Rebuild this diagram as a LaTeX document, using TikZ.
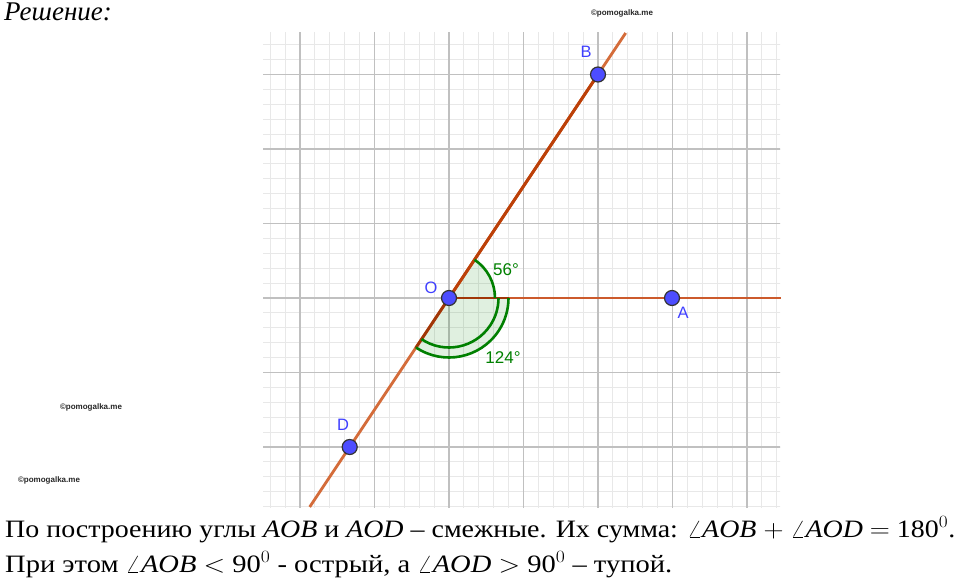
\documentclass[tikz,border=0pt]{standalone}
\usepackage{fontspec}
\setmainfont{Liberation Serif}
\newfontfamily\lblfont{Liberation Sans}
\usetikzlibrary{calc}
\definecolor{gridminor}{RGB}{232,232,232}
\definecolor{gridmajor}{RGB}{192,192,192}
\definecolor{linelight}{RGB}{212,108,58}
\definecolor{linedark}{RGB}{188,64,8}
\definecolor{rayor}{RGB}{204,90,44}
\definecolor{anggreen}{RGB}{0,128,0}
\definecolor{ptfill}{RGB}{77,77,255}
\definecolor{ptlbl}{RGB}{64,64,255}
\tikzset{
  minorline/.style={gridminor, line width=1pt},
  majorline/.style={gridmajor, line width=1.6pt},
  pt/.style={circle, fill=ptfill, draw=black!80, line width=1.2pt, minimum size=15pt, inner sep=0pt},
  ptlabel/.style={font=\lblfont\fontsize{16.5}{18}\selectfont, text=ptlbl, inner sep=0pt},
  anglabel/.style={font=\lblfont\fontsize{17}{19}\selectfont, text=anggreen, inner sep=0pt},
  wm/.style={font=\lblfont\bfseries\fontsize{8}{9}\selectfont, text=black!85, inner sep=0pt},
  arcline/.style={anggreen, line width=2.6pt},
  txt/.style={anchor=base west, inner sep=0pt}
}
\begin{document}
\begin{tikzpicture}[x=1pt,y=1pt]
\useasboundingbox (0,0) rectangle (960,-586);
% grid
\begin{scope}
\clip (263,-33) rectangle (780,-507);
\foreach \i in {-13,...,23} {\draw[minorline] ({449+\i*14.9},-30) -- ({449+\i*14.9},-510);}
\foreach \j in {-18,...,15} {\draw[minorline] (260,{-298-\j*14.9}) -- (783,{-298-\j*14.9});}
\foreach \i in {-3,...,5} {\draw[majorline] ({449+\i*74.5},-30) -- ({449+\i*74.5},-510);}
\foreach \j in {-4,...,3} {\draw[majorline] (260,{-298-\j*74.5}) -- (783,{-298-\j*74.5});}
\end{scope}
% key coordinates
\coordinate (O) at (449,-298);
\coordinate (A) at (672,-298);
\coordinate (B) at (598,-74.5);
\coordinate (D) at (349.7,-447);
\coordinate (Aend) at (781,-298);
\coordinate (Ltop) at ($(O)!1.1857!(B)$);
\coordinate (Lbot) at ($(O)!-0.935!(B)$);
\coordinate (Dr) at ($(O)!60pt!(D)$);
\coordinate (Ar) at ($(O)!60pt!(A)$);
% sectors
\fill[anggreen, opacity=0.12] (O) -- ++(0:46) arc[start angle=0, end angle=56.3, radius=46] -- cycle;
\fill[anggreen, opacity=0.12] (O) -- ++(236.3:59.5) arc[start angle=236.3, end angle=360, radius=59.5] -- cycle;
% lines
\draw[linelight, line width=2.8pt] (Lbot) -- (Ltop);
\draw[rayor, line width=2.8pt] (O) -- (Aend);
\draw[linedark, line width=3pt] (O) -- (B);
\draw[linedark!85!black, line width=2.8pt] (O) -- (Dr);
\draw[linedark!85!black, line width=2.8pt] (O) -- (Ar);
% arcs
\draw[arcline] (O) ++(0:46) arc[start angle=0, end angle=56.3, radius=46];
\draw[arcline] (O) ++(236.3:49.5) arc[start angle=236.3, end angle=360, radius=49.5];
\draw[arcline] (O) ++(236.3:59.5) arc[start angle=236.3, end angle=360, radius=59.5];
% points
\node[pt] (Op) at (O) {};
\node[pt] (Ap) at (A) {};
\node[pt] (Bp) at (B) {};
\node[pt] (Dp) at (D) {};
% labels
\node[ptlabel] (Ol) at (431,-288) {O};
\node[ptlabel] (Bl) at (586,-52) {B};
\node[ptlabel] (Al) at (683,-313) {A};
\node[ptlabel] (Dl) at (343,-425) {D};
\node[anglabel] (a56) at (506,-270) {56°};
\node[anglabel] (a124) at (503,-358) {124°};
% watermarks
\node[wm] (w1) at (622,-13) {©pomogalka.me};
\node[wm] (w2) at (91,-407) {©pomogalka.me};
\node[wm] (w3) at (49,-480) {©pomogalka.me};
% texts
\node[txt] (title) at (4,-21) {\fontsize{27}{30}\selectfont\itshape Решение:};
\node[txt] (t1) at (5,-537) {\resizebox{950pt}{\height}{\fontsize{25}{30}\selectfont По построению углы \textit{AOB} и \textit{AOD} – смежные. Их сумма: $\angle$\textit{AOB} $+$ $\angle$\textit{AOD} $=$ 180$^0$.}};
\node[txt] (t2) at (5,-572) {\resizebox{667pt}{\height}{\fontsize{25}{30}\selectfont При этом $\angle$\textit{AOB} $<$ 90$^0$ - острый, а $\angle$\textit{AOD} $>$ 90$^0$ – тупой.}};
\end{tikzpicture}
\end{document}
